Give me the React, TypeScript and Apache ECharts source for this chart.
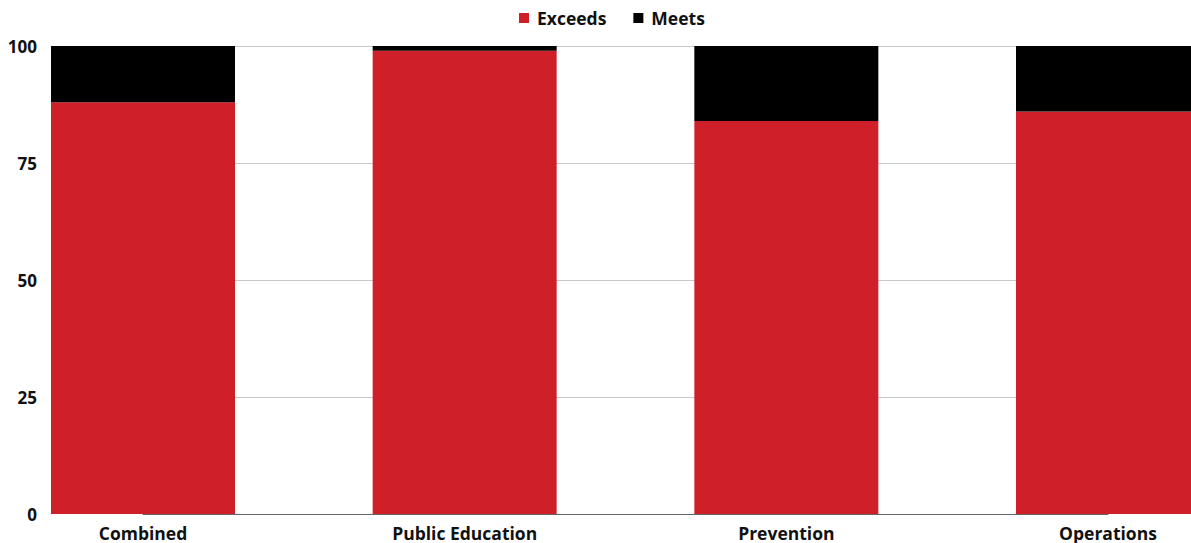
import React, { useEffect, useRef } from "react";
import * as echarts from "echarts";

const categories = ["Combined", "Public Education", "Prevention", "Operations"];
const exceeds = [88, 99, 84, 86];
const meets = [12, 1, 16, 14];
const yTicks = [0, 25, 50, 75, 100];

export default function App() {
  const ref = useRef<HTMLDivElement>(null);
  useEffect(() => {
    if (!ref.current) return;
    const chart = echarts.init(ref.current, undefined, { renderer: "svg" });
    const font = "'Open Sans', sans-serif";
    chart.setOption({
      animation: false,
      textStyle: { fontFamily: font },
      legend: {
        data: ["Exceeds", "Meets"],
        left: 514,
        top: 4,
        icon: "rect",
        itemWidth: 10,
        itemHeight: 10,
        itemGap: 27,
        textStyle: {
          fontFamily: font,
          fontWeight: "bold",
          fontSize: 17.5,
          color: "#111",
          padding: [0, 0, 0, 3],
        },
      },
      grid: { left: 143, right: 83, top: 46, bottom: 29, containLabel: false },
      xAxis: {
        type: "category",
        data: categories,
        boundaryGap: false,
        axisTick: { show: false },
        axisLine: { lineStyle: { color: "#666", width: 1 } },
        axisLabel: {
          fontFamily: font,
          fontWeight: "bold",
          fontSize: 17.5,
          lineHeight: 17,
          color: "#111",
          margin: 10,
        },
      },
      yAxis: {
        type: "value",
        min: yTicks[0],
        max: yTicks[yTicks.length - 1],
        interval: 25,
        axisLine: { show: false },
        axisTick: { show: false },
        splitLine: { lineStyle: { color: "#c8c8c8", width: 1 } },
        axisLabel: { fontFamily: font, fontWeight: "bold", fontSize: 17, color: "#111", margin: 106 },
      },
      series: [
        {
          name: "Exceeds",
          type: "bar",
          stack: "total",
          data: exceeds,
          barWidth: 184,
          clip: false,
          itemStyle: { color: "#CF202A" },
        },
        {
          name: "Meets",
          type: "bar",
          stack: "total",
          data: meets,
          barWidth: 184,
          clip: false,
          itemStyle: { color: "#000000" },
        },
      ],
    });
    return () => chart.dispose();
  }, []);
  return (
    <div
      ref={ref}
      style={{ position: "absolute", left: 0, top: 0, width: 1191, height: 543, overflow: "hidden" }}
    />
  );
}
